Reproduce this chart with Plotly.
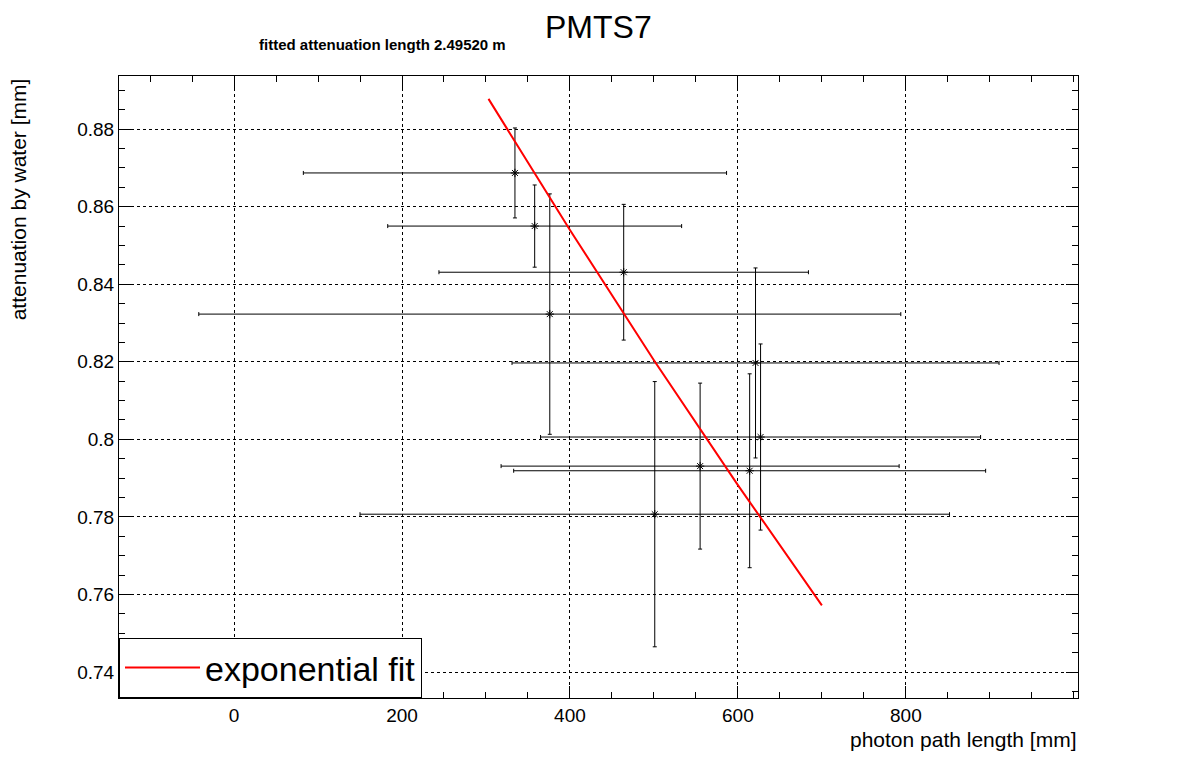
import plotly.graph_objects as go

# measured points
path_len = [334.5, 358, 376, 464, 621, 627, 555, 614, 501]
path_err = [252, 175, 418, 220, 290, 262, 237, 281, 351]
atten = [0.8687, 0.8550, 0.8323, 0.8431, 0.8197, 0.8006, 0.7931, 0.7919, 0.7807]
atten_err = [0.0116, 0.0106, 0.0310, 0.0175, 0.0245, 0.0240, 0.0214, 0.0250, 0.0342]

# fitted exponential curve
fit_x = [303, 400, 500, 600, 700]
fit_y = [0.8878, 0.8540, 0.8204, 0.7882, 0.7572]

x_ticks = [0, 200, 400, 600, 800]

fig = go.Figure()
fig.add_trace(go.Scatter(
    x=path_len, y=atten, mode="markers", showlegend=False,
    marker=dict(symbol="asterisk-open", size=7, color="black", line=dict(width=1, color="black")),
    error_x=dict(type="data", array=path_err, color="black", thickness=1, width=2),
    error_y=dict(type="data", array=atten_err, color="black", thickness=1, width=2),
))
fig.add_trace(go.Scatter(x=fit_x, y=fit_y, mode="lines", name="exponential fit",
                         line=dict(color="red", width=2)))

axis = dict(showline=True, linecolor="black", linewidth=1, mirror="ticks", ticks="inside",
            ticklen=12, tickcolor="black", showgrid=True, gridcolor="black", griddash="dot",
            gridwidth=0.5, zeroline=False, tickfont=dict(size=19, color="black"))

fig.update_layout(
    width=1198, height=776, plot_bgcolor="white", paper_bgcolor="white",
    margin=dict(l=111, r=128, t=68, b=86),
    font=dict(family="Liberation Sans, Arial, sans-serif", color="black"),
    xaxis=dict(axis, range=[-137, 1005], tickvals=x_ticks,
               minor=dict(ticks="inside", ticklen=6, dtick=50, tickcolor="black")),
    yaxis=dict(axis, range=[0.7333, 0.8937], dtick=0.02, tick0=0.74,
               minor=dict(ticks="inside", ticklen=6, dtick=0.005, tickcolor="black")),
    legend=dict(x=0, y=0, xanchor="left", yanchor="bottom", bgcolor="white",
                bordercolor="black", borderwidth=1, font=dict(size=34),
                itemwidth=75, tracegroupgap=0),
    annotations=[
        dict(text="PMTS7", x=(598 - 119) / 959, y=1 + (76 - 27) / 622, xref="paper", yref="paper",
             showarrow=False, xanchor="center", yanchor="middle", font=dict(size=32)),
        dict(text="<b>fitted attenuation length 2.49520 m</b>", x=(382 - 119) / 959,
             y=1 + (76 - 45) / 622, xref="paper", yref="paper", showarrow=False,
             xanchor="center", yanchor="middle", font=dict(size=15)),
        dict(text="attenuation by water [mm]", x=-0.105, y=1, xref="paper", yref="paper",
             textangle=-90, showarrow=False, xanchor="center", yanchor="top", font=dict(size=21)),
        dict(text="photon path length [mm]", x=1, y=-0.045, xref="paper", yref="paper",
             showarrow=False, xanchor="right", yanchor="top", font=dict(size=21)),
    ],
)

fig.write_html("out.html")
